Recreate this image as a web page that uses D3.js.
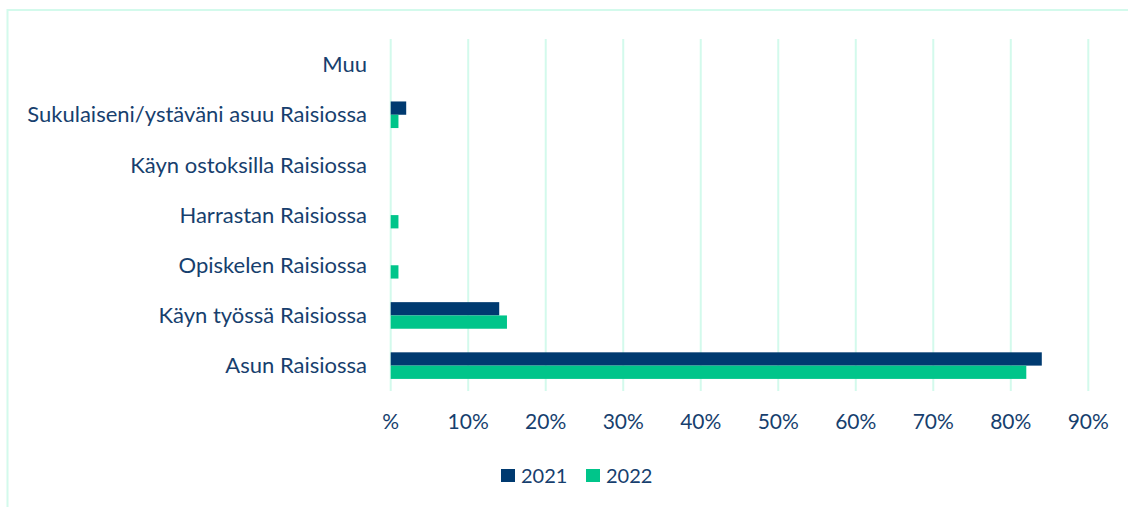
<!DOCTYPE html>
<meta charset="utf-8">
<title>Raisio</title>
<style>
body {
  margin: 0px;
  background: #fff;
}
svg text {
  font-family: Lato, "Noto Sans", sans-serif;
  fill: #173f6e;
}
</style>
<body>
<script src="https://d3js.org/d3.v7.min.js"></script>
<script>

var width = 1128, height = 507;

// data
var categories = ["Muu", "Sukulaiseni/ystäväni asuu Raisiossa", "Käyn ostoksilla Raisiossa",
  "Harrastan Raisiossa", "Opiskelen Raisiossa", "Käyn työssä Raisiossa", "Asun Raisiossa"];
var years = ["2021", "2022"];
var values2021 = [0, 2, 0, 0, 0, 14, 84];
var values2022 = [0, 1, 0, 1, 1, 15, 82];
var ticks = [0, 10, 20, 30, 40, 50, 60, 70, 80, 90];
var tickLabels = ["%", "10%", "20%", "30%", "40%", "50%", "60%", "70%", "80%", "90%"];
var colors = ["#003a70", "#00c58a"];

var svg = d3.select("body").append("svg")
    .attr("width", width)
    .attr("height", height);

// chart frame (only left and top edges are visible)
svg.append("rect")
    .attr("x", 7.5).attr("y", 10)
    .attr("width", 1200).attr("height", 600)
    .style("fill", "none")
    .style("stroke", "#d3faec")
    .style("stroke-width", 2);

var x = d3.scaleLinear().domain([0, 90]).range([390.7, 1088.3]);
var y = d3.scaleBand().domain(categories).range([39.5, 390.7])
    .paddingInner(0.47).paddingOuter(0.235);
var sub = d3.scaleBand().domain(years).range([0, y.bandwidth()]);

// gridlines
svg.selectAll("line.grid")
    .data(ticks)
  .enter().append("line")
    .attr("class", "grid")
    .attr("x1", d => x(d)).attr("x2", d => x(d))
    .attr("y1", 39).attr("y2", 391)
    .style("stroke", "#d3faec")
    .style("stroke-width", 2);

// bars
var series = [values2021, values2022];
years.forEach(function (yr, i) {
  svg.selectAll("rect.bar" + yr)
      .data(categories)
    .enter().append("rect")
      .attr("class", "bar" + yr)
      .attr("x", x(0))
      .attr("y", c => y(c) + sub(yr))
      .attr("width", (c, j) => x(series[i][j]) - x(0))
      .attr("height", sub.bandwidth())
      .style("fill", colors[i]);
});

// category labels
svg.selectAll("text.cat")
    .data(categories)
  .enter().append("text")
    .attr("class", "cat")
    .attr("x", 367)
    .attr("y", c => y(c) + y.bandwidth() / 2)
    .attr("dy", "0.35em")
    .attr("text-anchor", "end")
    .style("font-size", "22px")
    .text(c => c);

// x tick labels
svg.selectAll("text.tick")
    .data(ticks)
  .enter().append("text")
    .attr("class", "tick")
    .attr("x", d => x(d))
    .attr("y", 422)
    .attr("dy", "0.35em")
    .attr("text-anchor", "middle")
    .style("font-size", "21px")
    .text((d, i) => tickLabels[i]);

// legend
var legendX = [501, 586];
years.forEach(function (yr, i) {
  svg.append("rect")
      .attr("x", legendX[i]).attr("y", 469)
      .attr("width", 14).attr("height", 13)
      .style("fill", colors[i]);
  svg.append("text")
      .attr("x", legendX[i] + 20).attr("y", 475.5)
      .attr("dy", "0.35em")
      .style("font-size", "20px")
      .text(yr);
});

</script>
